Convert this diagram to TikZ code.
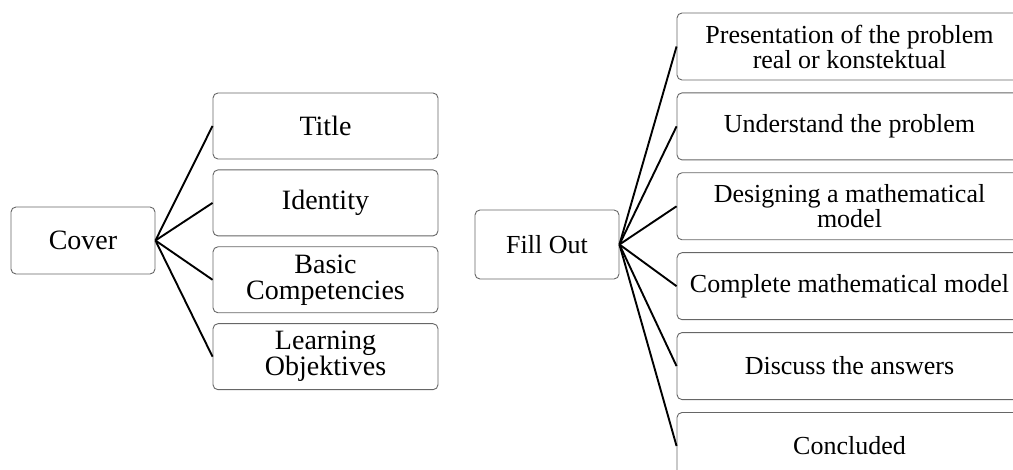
\documentclass[tikz,border=0pt]{standalone}
\usepackage{fontspec}
\setmainfont{Liberation Serif}
\usetikzlibrary{positioning}

\tikzset{
  box/.style={draw=gray!80!black, line width=0.9pt, rounded corners=5pt,
    align=center, inner sep=2pt},
  leftbox/.style={box, minimum width=225pt, minimum height=66pt,
    font=\fontsize{28}{26}\selectfont},
  rightbox/.style={box, minimum width=345pt, minimum height=67pt,
    font=\fontsize{26}{25}\selectfont},
  branch/.style={draw=black, line width=1.9pt}
}

\begin{document}
\begin{tikzpicture}[x=1pt,y=1pt]
    \useasboundingbox (0,0) rectangle (1013,470);
    \clip (0,0) rectangle (1013,470);

        % left group
        \node[box, minimum width=144pt, minimum height=67pt,
              font=\fontsize{28}{26}\selectfont] (cover) at (83,229.5) {Cover};
        \node[leftbox] (title) at (325.5,344)            {Title};
        \node[leftbox] (ident) [below=10pt of title]    {Identity};
        \node[leftbox] (basic) [below=10pt of ident]    {Basic\\Competencies};
        \node[leftbox] (objec) [below=10pt of basic]    {Learning\\Objektives};

        % right group
        \node[box, minimum width=144pt, minimum height=69pt,
              font=\fontsize{26}{25}\selectfont] (fill) at (547,225.5) {Fill Out};
        \node[rightbox] (pres) at (849.5,423.5)          {Presentation of the problem\\real or konstektual};
        \node[rightbox] (und)  [below=12pt of pres]      {Understand the problem};
        \node[rightbox] (des)  [below=12pt of und]       {Designing a mathematical\\model};
        \node[rightbox] (comp) [below=12pt of des]       {Complete mathematical model};
        \node[rightbox] (disc) [below=12pt of comp]      {Discuss the answers};
        \node[rightbox] (conc) [below=12pt of disc]      {Concluded};

          \path[branch]
            (cover.east) edge (title.west)
            (cover.east) edge (ident.west)
            (cover.east) edge (basic.west)
            (cover.east) edge (objec.west);
          \path[branch]
            (fill.east) edge (pres.west)
            (fill.east) edge (und.west)
            (fill.east) edge (des.west)
            (fill.east) edge (comp.west)
            (fill.east) edge (disc.west)
            (fill.east) edge (conc.west);
    \end{tikzpicture}
\end{document}
